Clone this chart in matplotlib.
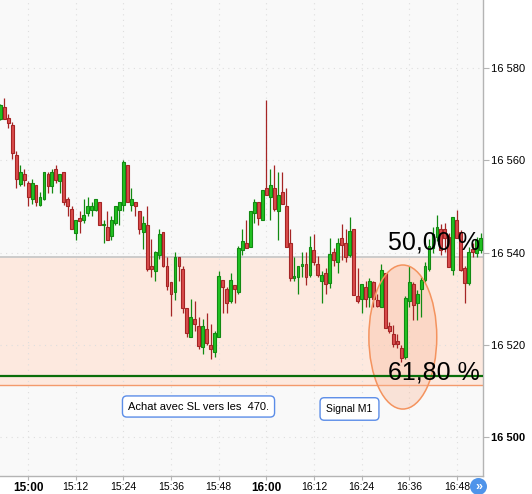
import numpy as np
import matplotlib
matplotlib.use('Agg')
import matplotlib.pyplot as plt
from matplotlib.patches import Ellipse, Circle
from matplotlib.transforms import IdentityTransform

plt.rcParams['font.family'] = ['Liberation Sans', 'DejaVu Sans']

# 1-minute candles, first one at 14:53
opens = [16569.0, 16571.5, 16569.2, 16567.6, 16561.1, 16554.9, 16557.0, 16555.1, 16551.5, 16554.6,
         16550.4, 16551.5, 16557.0, 16554.5, 16558.1, 16555.4, 16557.4, 16551.6, 16549.4, 16544.3,
         16547.5, 16547.0, 16548.5, 16549.3, 16549.3, 16550.9, 16545.9, 16545.5, 16543.5, 16546.5,
         16549.3, 16550.4, 16558.9, 16550.4, 16550.9, 16548.9, 16544.4, 16545.9, 16537.0, 16535.9,
         16539.4, 16544.4, 16537.0, 16533.6, 16531.4, 16539.0, 16536.4, 16527.9, 16521.8, 16525.5,
         16524.0, 16519.5, 16523.4, 16519.9, 16518.4, 16521.8, 16534.0, 16532.0, 16529.4, 16533.0,
         16531.4, 16540.6, 16542.0, 16541.3, 16548.5, 16550.9, 16547.0, 16553.9, 16552.0, 16553.9,
         16548.9, 16553.1, 16550.0, 16542.0, 16534.4, 16534.8, 16537.0, 16537.5, 16535.1, 16540.6,
         16537.5, 16533.9, 16535.6, 16533.5, 16540.1, 16538.0, 16543.2, 16542.0, 16539.5, 16545.0,
         16530.5, 16529.9, 16532.6, 16530.4, 16533.6, 16529.7, 16528.1, 16535.5, 16524.0, 16522.3,
         16520.8, 16519.4, 16517.4, 16529.6, 16533.1, 16529.0, 16532.0, 16534.1, 16536.5, 16541.0,
         16543.4, 16545.2, 16545.2, 16543.4, 16536.2, 16547.0, 16544.5, 16536.6, 16533.5, 16540.7,
         16539.9, 16540.6]
highs = [16572.2, 16573.5, 16570.0, 16568.2, 16562.0, 16559.0, 16558.1, 16555.6, 16555.9, 16554.6,
         16553.1, 16557.5, 16557.5, 16558.1, 16558.9, 16557.0, 16557.5, 16552.0, 16550.0, 16547.0,
         16549.0, 16551.6, 16552.0, 16551.0, 16551.5, 16550.9, 16547.0, 16549.0, 16548.0, 16550.0,
         16550.9, 16560.1, 16558.9, 16554.0, 16550.9, 16548.9, 16548.0, 16550.0, 16543.0, 16540.4,
         16545.0, 16544.4, 16539.1, 16533.6, 16540.1, 16539.0, 16537.0, 16527.9, 16529.9, 16529.5,
         16526.0, 16525.5, 16527.0, 16524.5, 16523.0, 16536.0, 16534.0, 16532.6, 16535.6, 16533.0,
         16541.5, 16545.0, 16547.0, 16548.9, 16551.6, 16550.9, 16553.6, 16573.1, 16558.1, 16558.9,
         16557.5, 16557.5, 16553.9, 16545.0, 16539.1, 16537.0, 16540.1, 16540.1, 16543.6, 16544.0,
         16539.3, 16535.9, 16536.6, 16543.2, 16541.0, 16543.2, 16546.1, 16545.1, 16547.7, 16545.0,
         16536.6, 16533.1, 16533.9, 16534.4, 16533.9, 16531.0, 16537.5, 16535.5, 16525.0, 16524.2,
         16522.3, 16520.0, 16530.5, 16537.0, 16533.6, 16531.9, 16534.8, 16538.0, 16543.0, 16545.5,
         16548.1, 16546.1, 16546.3, 16544.2, 16547.8, 16549.2, 16544.9, 16537.0, 16541.3, 16542.0,
         16543.4, 16544.2]
lows = [16568.8, 16569.0, 16566.9, 16560.3, 16553.9, 16554.5, 16554.5, 16550.0, 16550.5, 16550.0,
        16550.0, 16551.3, 16553.0, 16553.0, 16555.0, 16553.0, 16550.4, 16548.0, 16545.0, 16542.8,
        16544.3, 16546.5, 16548.0, 16548.0, 16549.0, 16545.9, 16542.0, 16542.8, 16542.8, 16545.9,
        16545.9, 16549.0, 16550.9, 16549.0, 16548.0, 16544.0, 16540.8, 16535.9, 16534.8, 16533.8,
        16538.5, 16536.8, 16531.9, 16526.3, 16529.7, 16533.8, 16527.0, 16521.8, 16521.8, 16522.9,
        16519.0, 16518.0, 16520.0, 16516.9, 16517.4, 16521.8, 16527.0, 16527.0, 16529.0, 16529.0,
        16531.0, 16539.4, 16540.9, 16541.3, 16546.5, 16545.9, 16547.0, 16552.4, 16547.0, 16549.0,
        16542.8, 16550.5, 16541.3, 16533.9, 16533.9, 16531.0, 16534.8, 16533.0, 16534.6, 16537.3,
        16534.8, 16529.0, 16531.0, 16532.4, 16537.0, 16535.5, 16538.4, 16538.0, 16539.1, 16530.9,
        16529.0, 16527.0, 16528.1, 16528.1, 16528.1, 16528.1, 16528.1, 16523.6, 16522.5, 16519.5,
        16519.4, 16516.4, 16517.0, 16528.3, 16525.4, 16525.4, 16526.1, 16533.7, 16536.0, 16540.0,
        16542.5, 16539.5, 16540.2, 16536.9, 16535.1, 16543.1, 16535.9, 16529.0, 16533.0, 16539.1,
        16539.1, 16539.8]
closes = [16572.0, 16569.0, 16568.0, 16561.5, 16555.9, 16557.4, 16555.8, 16552.0, 16555.0, 16550.9,
          16552.0, 16557.4, 16554.5, 16557.4, 16555.8, 16557.0, 16550.9, 16550.0, 16545.0, 16547.0,
          16546.9, 16548.1, 16550.0, 16550.0, 16551.5, 16545.9, 16546.1, 16542.8, 16547.0, 16550.0,
          16550.9, 16559.6, 16550.9, 16551.5, 16550.0, 16545.0, 16546.5, 16536.4, 16536.4, 16540.1,
          16544.0, 16537.0, 16532.8, 16531.0, 16539.0, 16537.0, 16527.9, 16522.5, 16526.0, 16524.5,
          16519.8, 16524.0, 16520.3, 16519.0, 16522.5, 16534.9, 16532.5, 16529.0, 16534.0, 16532.0,
          16540.9, 16542.4, 16540.9, 16548.9, 16550.9, 16547.4, 16553.6, 16552.4, 16554.6, 16549.4,
          16552.4, 16550.5, 16541.3, 16534.4, 16534.9, 16537.0, 16537.5, 16534.8, 16541.1, 16538.0,
          16535.1, 16535.1, 16533.1, 16539.7, 16538.4, 16542.0, 16541.6, 16539.1, 16544.6, 16530.9,
          16529.6, 16533.1, 16529.9, 16533.9, 16529.9, 16528.4, 16536.2, 16523.6, 16523.0, 16520.1,
          16520.1, 16517.1, 16530.1, 16533.6, 16528.6, 16531.0, 16534.1, 16537.0, 16541.5, 16544.0,
          16545.6, 16540.6, 16543.1, 16536.9, 16547.6, 16543.1, 16536.2, 16533.3, 16540.2, 16540.1,
          16542.7, 16543.1]

time_labels = ['15:00', '15:12', '15:24', '15:36', '15:48', '16:00', '16:12', '16:24', '16:36', '16:48']
price_ticks = [16500, 16520, 16540, 16560, 16580]
price_labels = ['16 500', '16 520', '16 540', '16 560', '16 580']

fib_50 = 16539.1
fib_618 = 16511.3
stop_level = 16513.2

W, H = 532, 494
fig = plt.figure(figsize=(W / 100, H / 100), dpi=100, facecolor='white')
ax = fig.add_axes([0, 18 / H, 483 / W, 476 / H])
ax.set_facecolor('#f9f9f9')

n = len(opens)
x = np.arange(n)
o = np.array(opens); c = np.array(closes)
hi = np.array(highs); lo = np.array(lows)
up = c >= o

ax.set_xlim(-0.08, 121.6)
ax.set_ylim(16491.6, 16594.7)

# grid (faint dotted)
tick_x = 7 + 12 * np.arange(len(time_labels))
for tx in tick_x:
    ax.axvline(tx, color='#dedede', lw=0.8, ls=(0, (1, 4)), zorder=1)
for ty in price_ticks:
    ax.axhline(ty, color='#dedede', lw=0.8, ls=(0, (1, 4)), zorder=1)

# fibonacci zone
ax.axhspan(fib_618, fib_50, color='#fde9df', zorder=0.5, lw=0)
ax.axhline(fib_50, color='#c8c8c8', lw=1.3, zorder=2)
ax.axhline(fib_618, color='#f39a6c', lw=1.0, zorder=2)

ax.add_patch(Ellipse((101.4, 16521.7), 17.1, 31.2, facecolor='#f9b898', alpha=0.35,
                     edgecolor='none', zorder=2.5))
ax.add_patch(Ellipse((101.4, 16521.7), 17.1, 31.2, facecolor='none',
                     edgecolor='#f4935e', lw=1.1, zorder=4))

# candles
green_f, green_e = '#22c322', '#128a12'
red_f, red_e = '#d94c4c', '#a52525'
ax.vlines(x[up], lo[up], hi[up], color=green_e, lw=0.9, zorder=3)
ax.vlines(x[~up], lo[~up], hi[~up], color=red_e, lw=0.9, zorder=3)
body_lo = np.minimum(o, c)
body_h = np.maximum(np.abs(c - o), 0.35)
ax.bar(x[up], body_h[up], bottom=body_lo[up], width=0.72, color=green_f,
       edgecolor=green_e, lw=0.8, zorder=3.5)
ax.bar(x[~up], body_h[~up], bottom=body_lo[~up], width=0.72, color=red_f,
       edgecolor=red_e, lw=0.8, zorder=3.5)

ax.axhline(stop_level, color='#0a6e0a', lw=1.6, zorder=4.5)

ax.text(97.7, 16540.6, '50,00 %', fontsize=18, color='black', zorder=6)
ax.text(97.7, 16512.4, '61,80 %', fontsize=18, color='black', zorder=6)

box = dict(boxstyle='round,pad=0.5,rounding_size=0.4', fc='white', ec='#5b8de8', lw=1)
ax.text(0.411, 0.146, 'Achat avec SL vers les  470.', transform=ax.transAxes,
        ha='center', va='center', fontsize=8, bbox=box, zorder=7)
box2 = dict(boxstyle='round,pad=0.6,rounding_size=0.4', fc='white', ec='#5b8de8', lw=1)
ax.text(0.7236, 0.1408, 'Signal M1', transform=ax.transAxes,
        ha='center', va='center', fontsize=7.5, bbox=box2, zorder=7)

# axes
for s in ['top', 'left']:
    ax.spines[s].set_visible(False)
for s in ['right', 'bottom']:
    ax.spines[s].set_color('#b4b4b4')
    ax.spines[s].set_linewidth(1)

ax.yaxis.tick_right()
ax.set_yticks(price_ticks)
ax.set_yticklabels(price_labels)
ax.set_xticks(tick_x)
ax.set_xticklabels(time_labels)
ax.tick_params(axis='y', length=4, width=0.8, color='#b4b4b4', pad=2, labelsize=8)
ax.tick_params(axis='x', length=3, width=0.8, color='#b4b4b4', pad=1.5, labelsize=7.5)
for lab in ax.get_xticklabels():
    if lab.get_text() in ('15:00', '16:00'):
        lab.set_fontweight('bold')
        lab.set_fontsize(8.5)
for lab in ax.get_yticklabels():
    if lab.get_text() == '16 500':
        lab.set_fontweight('bold')

# scroll button
btn = Circle((478.5, 7.5), 8.5, transform=IdentityTransform(), facecolor='#4f94ea',
             edgecolor='none', zorder=10)
fig.add_artist(btn)
fig.text(478.5 / W, 7.5 / H, '»', color='white', fontsize=9, ha='center', va='center',
         fontweight='bold', zorder=11)

fig.savefig('out.png', dpi=100)
